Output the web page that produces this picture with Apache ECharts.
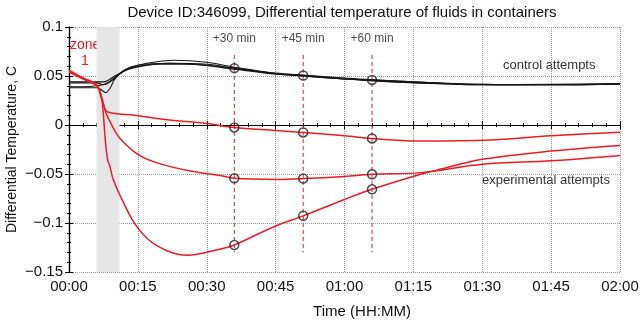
<!DOCTYPE html>
<html>
<head>
<meta charset="utf-8">
<script src="https://cdn.jsdelivr.net/npm/echarts@6/dist/echarts.min.js"></script>
<style>
  html, body { margin: 0; padding: 0; background: #fff; }
  #chart { width: 640px; height: 323px; }
</style>
</head>
<body>
<div id="chart"></div>
<script>
// time in minutes, value in C
var control1 = [[0,0.043],[3,0.043],[6,0.043],[7.5,0.041],[9,0.044],[11,0.052],[13,0.058],[17,0.063],[23,0.066],[30,0.064],[36,0.059],[45,0.053],[51,0.051],[60,0.048],[66,0.046],[75,0.044],[90,0.0415],[105,0.041],[120,0.042]]
var control2 = [[0,0.038],[3,0.038],[6,0.038],[7,0.036],[8,0.033],[9,0.038],[10,0.047],[12,0.056],[15,0.061],[22,0.063],[30,0.062],[36,0.058],[45,0.052],[51,0.050],[60,0.047],[66,0.0455],[75,0.0435],[90,0.041],[105,0.041],[120,0.042]]
var control3 = [[0,0.044],[3,0.044],[6,0.044],[7.5,0.044],[10,0.050],[13,0.057],[20,0.062],[26,0.062],[36,0.057],[45,0.052],[51,0.0505],[60,0.047],[66,0.045],[75,0.043],[90,0.041],[105,0.0415],[120,0.042]]
var control4 = [[0,0.039],[3,0.039],[6,0.040],[8,0.042],[11,0.052],[14,0.059],[22,0.063],[30,0.061],[36,0.058],[45,0.0525],[51,0.050],[60,0.047],[66,0.046],[75,0.044],[90,0.0415],[105,0.041],[120,0.042]]

var expA = [[0,0.055],[3,0.048],[6,0.041],[7,0.028],[8,0.015],[9,0.0125],[15,0.0095],[21,0.0056],[30,0.0015],[36,-0.0025],[45,-0.0055],[51,-0.0076],[60,-0.011],[66,-0.0137],[76,-0.0162],[90,-0.0155],[105,-0.011],[120,-0.0073]]
var expB = [[0,0.054],[3,0.047],[6,0.040],[7,0.030],[8,0.013],[8.7,0.0056],[10,-0.006],[11.3,-0.0147],[15,-0.030],[19,-0.0384],[26.4,-0.047],[33,-0.0515],[36,-0.0544],[45,-0.0555],[51,-0.0547],[60,-0.0525],[66,-0.0503],[76.6,-0.0486],[90,-0.040],[105,-0.0365],[120,-0.031]]
var expC = [[0,0.056],[3,0.048],[6,0.041],[7,0.030],[7.4,0.016],[7.9,-0.015],[8.4,-0.035],[8.9,-0.042],[9.6,-0.055],[11.5,-0.0757],[14.8,-0.104],[19.1,-0.123],[25.7,-0.133],[33,-0.1265],[36,-0.1225],[45,-0.103],[51,-0.0927],[60,-0.076],[66,-0.0656],[76.6,-0.0503],[81,-0.045],[90,-0.035],[105,-0.0266],[120,-0.0208]]

var markTimes = [36, 51, 66]
var markLabels = ['+30 min', '+45 min', '+60 min']
var circleControl = [0.058, 0.0505, 0.046]
var circleA = [-0.0025, -0.0076, -0.0137]
var circleB = [-0.0544, -0.0547, -0.0503]
var circleC = [-0.1225, -0.0927, -0.0656]

var zoneStart = 6
var zoneEnd = 11
var xTicks = ['00:00','00:15','00:30','00:45','01:00','01:15','01:30','01:45','02:00']
var yTicks = ['0.1','0.05','0','\u22120.05','\u22120.1','\u22120.15']

var RED = '#ec1c24'
var FONT = 'Liberation Sans'

function circlePoints() {
  var pts = []
  var groups = [circleControl, circleA, circleB, circleC]
  groups.forEach(function (g) {
    g.forEach(function (v, i) { pts.push([markTimes[i], v]) })
  })
  return pts
}

function lineSeries(data, color, width) {
  return {
    type: 'line', data: data, smooth: 0.35, showSymbol: false, symbol: 'none',
    itemStyle: { color: color },
    lineStyle: { color: color, width: width }, z: 3, silent: true
  }
}

var series = []
;[control1, control2, control3, control4].forEach(function (d) {
  series.push(lineSeries(d, '#151515', 1.1))
})
;[expA, expB, expC].forEach(function (d) {
  series.push(lineSeries(d, RED, 1.5))
})
// grey zone band
series.push({
  type: 'line', data: [], silent: true,
  markArea: {
    silent: true,
    itemStyle: { color: '#e6e6e6' },
    data: [[{ xAxis: zoneStart, yAxis: 0.1 }, { xAxis: zoneEnd, yAxis: -0.15 }]]
  },
  z: 1
})
// dashed red markers
markTimes.forEach(function (t) {
  series.push({
    type: 'line', data: [[t, 0.0715], [t, -0.13]], showSymbol: false, symbol: 'none',
    itemStyle: { color: RED },
    lineStyle: { color: RED, width: 1, type: [4, 3] }, z: 2, silent: true
  })
})
// circles
series.push({
  type: 'scatter', data: circlePoints(), symbol: 'circle', symbolSize: 9,
  itemStyle: { color: 'rgba(0,0,0,0)', borderColor: '#222', borderWidth: 1.5 }, z: 5, silent: true
})
// +N min labels
series.push({
  type: 'scatter', data: markTimes.map(function (t, i) { return [t, 0.0885, markLabels[i]] }),
  symbolSize: 0, silent: true,
  label: {
    show: true, position: 'inside', formatter: function (p) { return p.data[2] },
    color: '#222', fontSize: 12, fontFamily: FONT
  }
})

var chart = echarts.init(document.getElementById('chart'))
chart.setOption({
  backgroundColor: '#fff',
  animation: false,
  title: {
    text: 'Device ID:346099, Differential temperature of fluids in containers',
    left: 337, top: 0, textAlign: 'center',
    textStyle: { fontSize: 15, fontWeight: 'normal', color: '#111', fontFamily: FONT }
  },
  grid: { left: 69, right: 20, top: 27, bottom: 51, containLabel: false, outerBoundsMode: 'none' },
  graphic: [
    { type: 'text', left: 70, top: 38, style: { text: 'zone', fill: RED, fontSize: 14, fontFamily: FONT } },
    { type: 'text', left: 81, top: 54, style: { text: '1', fill: RED, fontSize: 14, fontFamily: FONT } },
    { type: 'text', left: 503, top: 59, style: { text: 'control attempts', fill: '#333', fontSize: 13, fontFamily: FONT } },
    { type: 'text', left: 482, top: 174, style: { text: 'experimental attempts', fill: '#333', fontSize: 13, fontFamily: FONT } }
  ],
  xAxis: [{
    type: 'value', min: 0, max: 120, interval: 15,
    name: 'Time (HH:MM)', nameLocation: 'middle', nameGap: 32, nameMoveOverlap: false,
    nameTextStyle: { fontSize: 15, color: '#111', fontFamily: FONT, padding: [0, 0, 0, 35] },
    axisLine: { lineStyle: { color: '#000', width: 1.2 } },
    axisTick: { inside: true, length: 4, lineStyle: { color: '#000' } },
    minorTick: { show: true, splitNumber: 5, length: 2, lineStyle: { color: '#000' } },
    axisLabel: {
      fontSize: 15, color: '#111', fontFamily: FONT, margin: 7,
      formatter: function (v) { return xTicks[Math.round(v / 15)] }
    },
    splitLine: { show: true, lineStyle: { color: '#9a9a9a', type: [1, 1], width: 1 } }
  }, {
    type: 'value', min: 0, max: 120, interval: 15, position: 'top',
    axisLine: { lineStyle: { color: '#000', width: 1.2 } },
    axisTick: { inside: true, length: 4, lineStyle: { color: '#000' } },
    minorTick: { show: true, splitNumber: 5, length: 2, lineStyle: { color: '#000' } },
    axisLabel: { show: false }, splitLine: { show: false }
  }],
  yAxis: [{
    type: 'value', min: -0.15, max: 0.1, interval: 0.05,
    name: 'Differential Temperature, C', nameLocation: 'middle', nameGap: 50, nameMoveOverlap: false,
    nameTextStyle: { fontSize: 14, color: '#111', fontFamily: FONT },
    axisLine: { show: true, lineStyle: { color: '#000', width: 1.2 } },
    axisTick: { show: true, inside: true, length: 4, lineStyle: { color: '#000' } },
    minorTick: { show: true, splitNumber: 5, length: 2, lineStyle: { color: '#000' } },
    axisLabel: {
      fontSize: 15, color: '#111', fontFamily: FONT, margin: 6,
      formatter: function (v) { return yTicks[Math.round((0.1 - v) / 0.05)] }
    },
    splitLine: { show: true, lineStyle: { color: '#9a9a9a', type: [1, 1], width: 1 } }
  }, {
    type: 'value', min: -0.15, max: 0.1, interval: 0.05, position: 'right',
    axisLine: { show: true, lineStyle: { color: '#000', width: 1.2 } },
    axisTick: { show: true, inside: true, length: 4, lineStyle: { color: '#000' } },
    minorTick: { show: true, splitNumber: 5, length: 2, lineStyle: { color: '#000' } },
    axisLabel: { show: false }, splitLine: { show: false }
  }],
  series: series
})
</script>
</body>
</html>
